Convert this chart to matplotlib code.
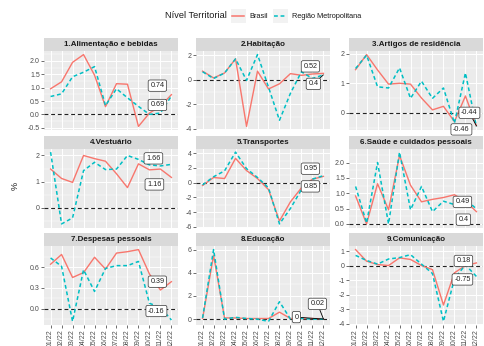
import matplotlib
matplotlib.use("Agg")
import matplotlib.pyplot as plt
from matplotlib.patches import Rectangle
from matplotlib.lines import Line2D
import numpy as np

plt.rcParams["font.family"] = ["Liberation Sans", "DejaVu Sans"]

months = ["01/22", "02/22", "03/22", "04/22", "05/22", "06/22",
          "07/22", "08/22", "09/22", "10/22", "11/22", "12/22"]

titles = ["1.Alimentação e bebidas", "2.Habitação", "3.Artigos de residência",
          "4.Vestuário", "5.Transportes", "6.Saúde e cuidados pessoais",
          "7.Despesas pessoais", "8.Educação", "9.Comunicação"]

brasil_alimentacao = [0.96, 1.22, 1.95, 2.24, 1.47, 0.29, 1.15, 1.13, -0.45, 0.05, 0.30, 0.74]
rm_alimentacao = [0.67, 0.77, 1.41, 1.58, 1.79, 0.33, 0.96, 0.62, 0.30, 0.00, 0.05, 0.69]

brasil_habitacao = [0.70, 0.15, 0.55, 1.70, -3.80, 0.70, -0.75, -0.33, 0.50, 0.36, 0.47, 0.52]
rm_habitacao = [0.65, 0.10, 0.55, 1.70, -0.05, 2.05, -0.60, -3.30, -1.10, 0.65, 0.10, 0.40]

brasil_artigos = [1.46, 1.97, 1.45, 0.97, 1.00, 0.97, 0.50, 0.10, 0.22, -0.30, 0.57, -0.44]
rm_artigos = [1.50, 1.95, 0.88, 0.84, 1.52, 0.49, 1.07, 0.49, 0.84, -0.35, 1.35, -0.46]

brasil_vestuario = [1.48, 1.12, 0.97, 2.00, 1.88, 1.78, 1.30, 0.77, 1.68, 1.45, 1.48, 1.16]
rm_vestuario = [2.13, -0.62, -0.39, 1.42, 1.74, 1.46, 1.48, 2.00, 1.85, 1.64, 1.60, 1.66]

brasil_transportes = [-0.38, 0.70, 0.56, 3.30, 1.64, 0.56, -0.94, -5.20, -2.60, -0.70, 0.47, 0.85]
rm_transportes = [-0.30, 0.80, 1.60, 4.15, 1.90, 0.70, -0.70, -5.60, -3.50, -0.94, 0.47, 0.95]

brasil_saude = [0.91, 0.00, 1.31, 0.46, 2.23, 1.26, 0.72, 0.80, 0.86, 0.95, 0.74, 0.40]
rm_saude = [1.22, 0.03, 2.00, 0.00, 2.34, 0.46, 1.22, 0.40, 0.74, 0.63, 0.80, 0.49]

brasil_despesas = [0.64, 0.78, 0.45, 0.52, 0.74, 0.57, 0.80, 0.82, 0.85, 0.50, 0.27, 0.39]
rm_despesas = [0.73, 0.61, -0.18, 0.56, 0.25, 0.58, 0.62, 0.62, 0.68, 0.08, 0.02, -0.16]

brasil_educacao = [0.05, 5.50, 0.10, 0.10, 0.05, 0.05, 0.05, 0.60, 0.05, 0.05, 0.05, 0.02]
rm_educacao = [0.10, 6.00, 0.00, 0.15, 0.05, 0.00, -0.20, 1.50, 0.00, 0.05, 0.00, 0.00]

brasil_comunicacao = [1.10, 0.30, 0.07, 0.00, 0.53, 0.42, 0.00, -0.28, -2.72, -0.50, 0.00, 0.18]
rm_comunicacao = [0.70, 0.35, 0.10, 0.45, 0.55, 0.75, 0.10, -0.55, -3.85, -0.90, 0.05, -0.75]

brasil_series = [brasil_alimentacao, brasil_habitacao, brasil_artigos, brasil_vestuario,
                 brasil_transportes, brasil_saude, brasil_despesas, brasil_educacao,
                 brasil_comunicacao]
rm_series = [rm_alimentacao, rm_habitacao, rm_artigos, rm_vestuario, rm_transportes,
             rm_saude, rm_despesas, rm_educacao, rm_comunicacao]

y_ticks = [[-0.5, 0.0, 0.5, 1.0, 1.5, 2.0], [-4, -2, 0, 2], [0, 1, 2],
           [0, 1, 2], [-6, -4, -2, 0, 2, 4], [0.0, 0.5, 1.0, 1.5, 2.0],
           [0.0, 0.3, 0.6], [0, 2, 4, 6], [-4, -3, -2, -1, 0, 1]]

# label offsets (pixels) relative to the last point: (brasil, rm), and whether a leader segment is drawn
label_offsets = [((-14, 9), (-14, -9)), ((-13, 7), (-10, -9)), ((-7, 13), (-15, -3)),
                 ((-17, -7), (-18, 6)), ((-13, -10), (-13, 7)), ((-13, -8), (-14, 7)),
                 ((-14, 0), (-15, 9)), ((-6, 15), (-27, 2)), ((-13, 2), (-14, -3))]
label_segments = [(False, False), (False, True), (True, False), (False, False),
                  (False, False), (False, False), (False, False), (True, True),
                  (False, False)]

RED = "#F8766D"
CYAN = "#00BFC4"
PANEL_BG = "#EBEBEB"
STRIP_BG = "#D9D9D9"

W, H = 485, 346
fig = plt.figure(figsize=(W / 100, H / 100), dpi=100)
fig.patch.set_facecolor("white")

col_left = [44, 196, 349]
row_top = [51, 148.5, 246]
pw, ph = 134, 79
strip_h = 13

x = np.arange(len(months))


def fmt_label(v):
    return f"{v:g}"


for i, title in enumerate(titles):
    r, c = divmod(i, 3)
    ax = fig.add_axes([col_left[c] / W, 1 - (row_top[r] + ph) / H, pw / W, ph / H])
    ax.set_facecolor(PANEL_BG)
    for s in ax.spines.values():
        s.set_visible(False)

    b = np.array(brasil_series[i])
    m = np.array(rm_series[i])
    lo = min(b.min(), m.min(), 0.0)
    hi = max(b.max(), m.max(), 0.0)
    pad = (hi - lo) * 0.05
    ax.set_ylim(lo - pad, hi + pad)
    ax.set_xlim(-0.6, len(months) - 0.4)

    ticks = y_ticks[i]
    step = ticks[1] - ticks[0]
    minors = [t + step / 2 for t in [ticks[0] - step] + list(ticks)]
    minors = [t for t in minors if lo - pad <= t <= hi + pad]
    for t in minors:
        ax.axhline(t, color="white", lw=0.35, zorder=0.5)
    for t in ticks:
        ax.axhline(t, color="white", lw=0.7, zorder=0.6)
    for xv in x:
        ax.axvline(xv, color="white", lw=0.7, zorder=0.6)

    ax.set_yticks(ticks)
    if all(float(t).is_integer() for t in ticks):
        ax.set_yticklabels([f"{int(t)}" for t in ticks])
    else:
        ax.set_yticklabels([f"{t:.1f}" for t in ticks])
    ax.set_xticks(x)
    ax.set_xticklabels(months, rotation=90)
    ax.tick_params(axis="both", length=2, width=0.5, color="#333333",
                   labelsize=5, labelcolor="#4D4D4D", pad=1)
    if r < 2:
        ax.tick_params(axis="x", bottom=False, labelbottom=False)

    ax.axhline(0, color="#222222", lw=0.8, ls=(0, (3.5, 2.5)), zorder=2)
    ax.plot(x, b, color=RED, lw=1.0, zorder=3)
    ax.plot(x, m, color=CYAN, lw=1.1, ls=(0, (2.5, 1.8)), zorder=3)

    for vals, off, seg in zip((b, m), label_offsets[i], label_segments[i]):
        v = vals[-1]
        kw = {}
        if seg:
            kw["arrowprops"] = dict(arrowstyle="-", color="black", lw=0.6,
                                    shrinkA=0, shrinkB=0)
        ax.annotate(fmt_label(v), xy=(x[-1], v), xytext=off, textcoords="offset pixels",
                    ha="center", va="center", fontsize=5.2, color="#222222",
                    bbox=dict(boxstyle="round,pad=0.3,rounding_size=0.25",
                              fc="white", ec="#333333", lw=0.5),
                    zorder=5, annotation_clip=False, **kw)

    ax.add_patch(Rectangle((0, 1), 1, strip_h / ph, transform=ax.transAxes,
                           clip_on=False, fc=STRIP_BG, ec="none"))
    ax.text(0.5, 1 + strip_h / ph / 2, title, transform=ax.transAxes,
            ha="center", va="center", fontsize=5.8, fontweight="bold",
            color="#1A1A1A")

fig.text(15 / W, 1 - 186 / H, "%", rotation=90, ha="center", va="center",
         fontsize=6.5, color="#1A1A1A")

# legend
ly = 1 - 16 / H
fig.text(165 / W, ly, "Nível Territorial", ha="left", va="center", fontsize=6.6,
         color="#1A1A1A")
for kx, color, dash, label, tx in [(231, RED, "-", "Brasil", 249),
                                   (273, CYAN, (0, (2.5, 1.8)), "Região Metropolitana", 292)]:
    fig.add_artist(Rectangle((kx / W, 1 - 23 / H), 15 / W, 14 / H,
                             transform=fig.transFigure, fc="#F2F2F2", ec="none"))
    fig.add_artist(Line2D([(kx + 1.5) / W, (kx + 13.5) / W], [ly, ly],
                          transform=fig.transFigure, color=color, lw=1.1, ls=dash))
    fig.text(tx / W, ly, label, ha="left", va="center", fontsize=5.3, color="#1A1A1A")

fig.savefig("out.png", dpi=100)
